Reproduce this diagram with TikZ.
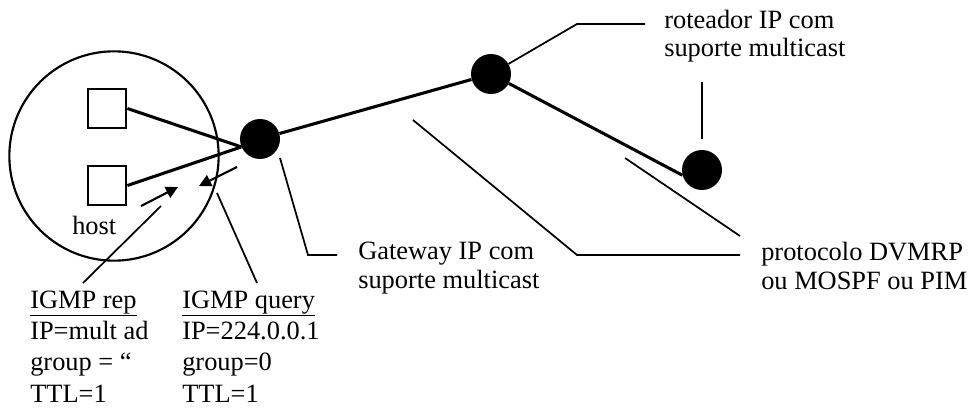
\documentclass[tikz,border=0pt]{standalone}
\usepackage{fontspec}
\setmainfont{Liberation Serif}
\usetikzlibrary{arrows.meta,positioning}

\begin{document}
\begin{tikzpicture}[x=0.75pt,y=-0.75pt,
  router/.style={circle,fill=black,minimum size=30pt,inner sep=0pt},
  hostbox/.style={draw,line width=1.6pt,minimum size=29pt,inner sep=0pt},
  link/.style={line width=2.3pt},
  leader/.style={line width=1.3pt},
  msg/.style={line width=1.6pt,arrows={-Triangle[length=9pt,width=9pt]}},
  txt/.style={align=left,anchor=base west,inner sep=0pt,font=\fontsize{19.8}{21.5}\selectfont},
  igmp/.style={txt,font=\fontsize{19.8}{23.5}\selectfont}]
\useasboundingbox (0,0) rectangle (972,410);

% host and routers
\node[draw,circle,line width=1.6pt,minimum size=157pt,inner sep=0pt] (host) at (114,156) {};
\node[hostbox] (h1) at (107,108.5) {};
\node[hostbox] (h2) at (107,185.5) {};
\node[txt] (hostname) at (72,234) {host};
\node[router] (gw) at (260,139) {};
\node[router] (r1) at (491,74) {};
\node[router] (r2) at (702,170) {};

% links
\draw[link] (h1.east) -- (gw.203);
\draw[link] (h2.east) -- (gw.203);
\draw[link] (gw) -- (r1);
\draw[link] (r1) -- (r2.195);

% igmp messages
\coordinate (repfrom) at (141,206);
\coordinate (repto) at (178,187);
\coordinate (qfrom) at (237,167);
\coordinate (qto) at (199,186);
\draw[msg] (repfrom) -- (repto);
\draw[msg] (qfrom) -- (qto);

% labels (base = last line)
\node[txt] (rlabel) at (664,57) {roteador IP com\\suporte multicast};
\node[txt] (gwlabel) at (358,288) {Gateway IP com\\suporte multicast};
\node[txt] (plabel) at (761,289) {protocolo DVMRP\\ou MOSPF ou PIM};
\node[igmp] (replabel) at (30,402) {\underline{IGMP rep}\\IP=mult ad\\group = “\\TTL=1};
\node[igmp] (qlabel) at (182,402) {\underline{IGMP query}\\IP=224.0.0.1\\group=0\\TTL=1};

% leader lines
\draw[leader] (r1.30) -- (577,24) -- (645,24);
\draw[leader] (702,82) -- (702,139);
\draw[leader] (280,158) -- (308,255) -- (337,255);
\draw[leader] (413,120) -- (577,255) -- (740,255);
\draw[leader] (625,158) -- (740,236);
\draw[leader] (161,206) -- (83,283);
\draw[leader] (217,193) -- (257,283);
\end{tikzpicture}
\end{document}
